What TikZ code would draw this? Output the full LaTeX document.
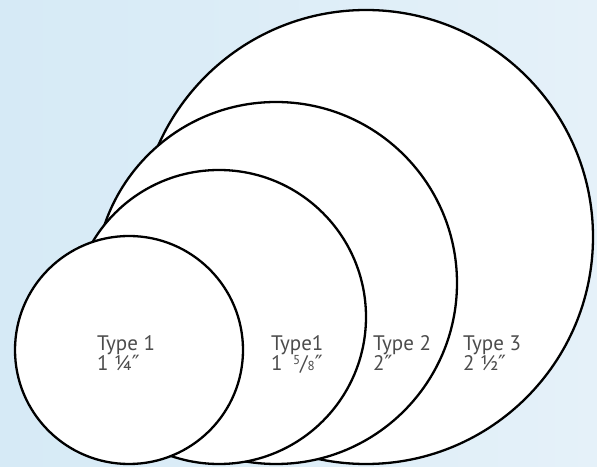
\documentclass[tikz,border=0pt]{standalone}
\usepackage{fontspec}
\setmainfont{PT Sans}
\newfontfamily\primefont{DejaVu Sans}
\usepackage{xcolor}
\usepackage{tikz}
\usetikzlibrary{positioning}

\definecolor{skyA}{HTML}{D6EAF6}
\definecolor{skyB}{HTML}{E5F1F9}
\definecolor{lblgray}{HTML}{4C4C4C}
\newcommand{\fracsmall}[2]{{\fontsize{13}{13}\selectfont\raisebox{6pt}{#1}}/{\fontsize{13}{13}\selectfont #2}}
\newcommand{\inch}{{\primefont\fontsize{21}{21}\selectfont ″}}

\begin{document}
\begin{tikzpicture}[x=1pt, y=1pt,
    disc/.style={circle, draw=black, fill=white, line width=2.3pt, inner sep=0pt},
    lbl/.style={anchor=base west, align=left, inner sep=0pt, text=lblgray,
                font=\fontsize{21}{19.5}\selectfont}
]
    \shade[left color=skyA, right color=skyB] (0,0) rectangle (597,466);
    \useasboundingbox (0,0) rectangle (597,466);

    % discs, largest at the back
    \node[disc, minimum size=454pt] (d4) at (366,229) {};
    \node[disc, minimum size=362pt] (d3) at (276,183) {};
    \node[disc, minimum size=294pt] (d2) at (219,149) {};
    \node[disc, minimum size=228pt] (d1) at (129,116) {};

    \node[lbl] (l1) at (97,95)  {Type 1\\1 ¼\inch};
    \node[lbl] (l2) at (271,95) {Type1\\1\enspace\fracsmall{5}{8}\inch};
    \node[lbl] (l3) at (373,95) {Type 2\\2\inch};
    \node[lbl] (l4) at (463,95) {Type 3\\2 ½\inch};
\end{tikzpicture}
\end{document}
